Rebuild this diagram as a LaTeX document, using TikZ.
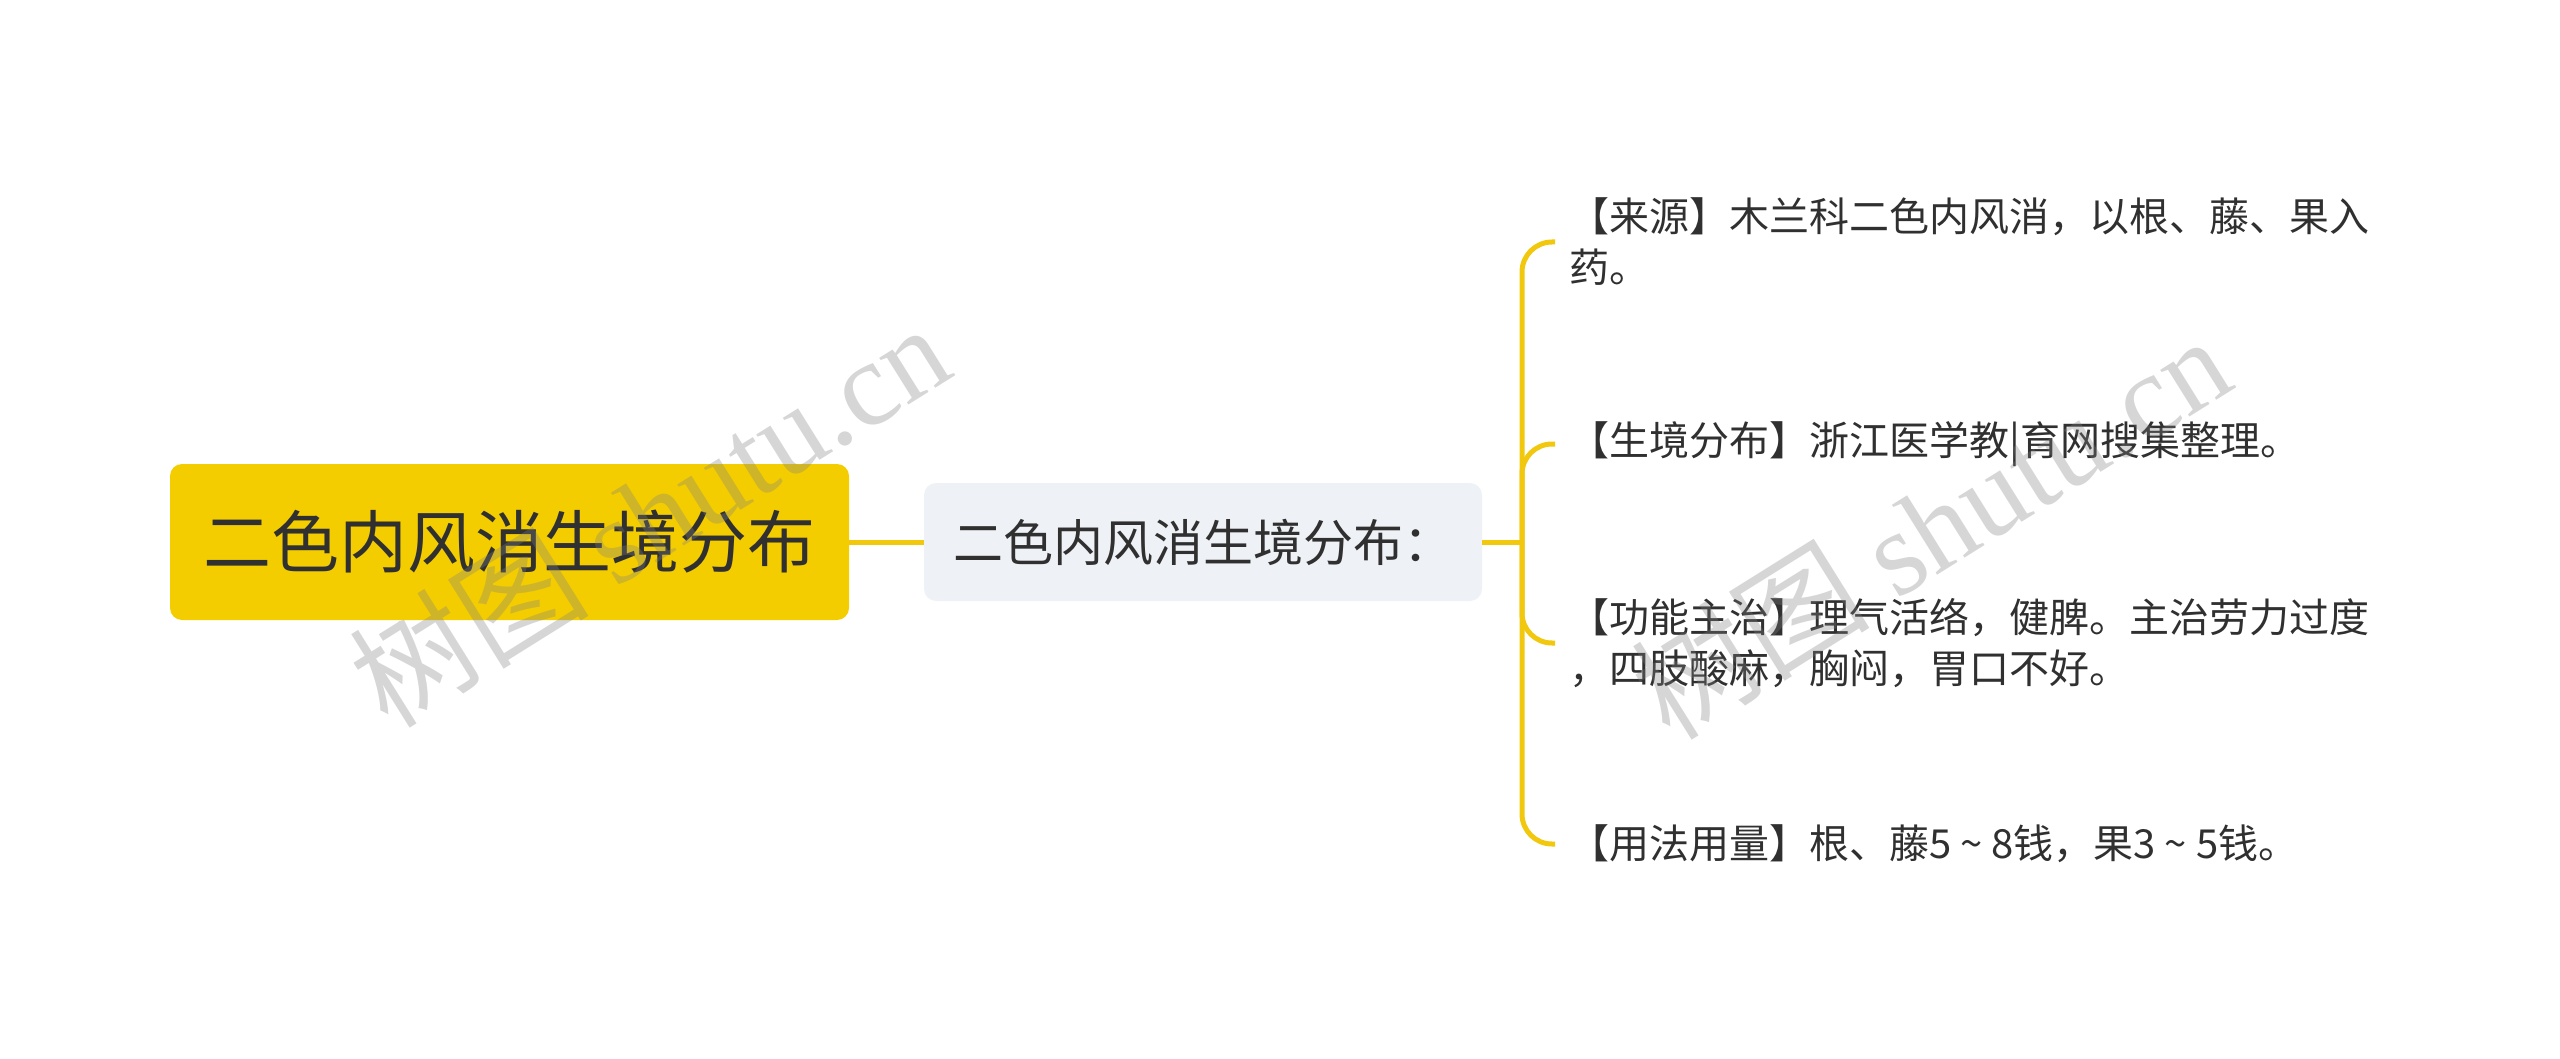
\documentclass[tikz,border=0pt]{standalone}
\usepackage{fontspec}
\setmainfont{Noto Sans CJK SC}
\newfontfamily\wmserif{Liberation Serif}
\definecolor{mapyellow}{HTML}{F4CD00}
\definecolor{mapline}{HTML}{F1C80E}
\definecolor{mapgrey}{HTML}{EEF1F5}
\definecolor{maptext}{HTML}{303030}
\begin{document}
\begin{tikzpicture}[x=1pt, y=-1pt,
    root node/.style={rectangle, rounded corners=12pt, fill=mapyellow, text=maptext, inner sep=0pt, minimum width=679pt, minimum height=156pt, font=\fontsize{68}{80}\selectfont},
    sub node/.style={rectangle, rounded corners=12pt, fill=mapgrey, text=maptext, inner sep=0pt, minimum width=558pt, minimum height=118pt, font=\fontsize{50}{58}\selectfont},
    leaf node/.style={anchor=west, align=left, text=maptext, inner xsep=14pt, inner ysep=0pt, font=\fontsize{40}{51}\selectfont},
    branch/.style={draw=mapline, line width=5pt},
    wmark/.style={text=black!50, opacity=0.32, rotate=32, font=\fontsize{120}{130}\selectfont}]
    \useasboundingbox (0,0) rectangle (2560,1059);

    % centre et sous-theme
    \node[root node] (root) at (509.5, 542) {二色内风消生境分布};
    \node[sub node] (sub) at (1203, 542) {二色内风消生境分布：};
    \coordinate (junc) at (1522, 542);
    \draw[branch] (root) -- (sub);
    \draw[branch] (sub) -- (junc);

    % feuilles
    \node[leaf node] (l1) at (1555, 242) {【来源】木兰科二色内风消，以根、藤、果入\\药。};
    \node[leaf node] (l2) at (1555, 444) {【生境分布】浙江医学教|育网搜集整理。};
    \node[leaf node] (l3) at (1555, 643) {【功能主治】理气活络，健脾。主治劳力过度\\，四肢酸麻，胸闷，胃口不好。};
    \node[leaf node] (l4) at (1555, 844) {【用法用量】根、藤5 \textasciitilde{} 8钱，果3 \textasciitilde{} 5钱。};

    \draw[branch, rounded corners=30pt] (junc) |- (l1.west);
    \draw[branch, rounded corners=30pt] (junc) |- (l2.west);
    \draw[branch, rounded corners=30pt] (junc) |- (l3.west);
    \draw[branch, rounded corners=30pt] (junc) |- (l4.west);

    % filigrane
    \node[wmark] (wm1) at (649, 514) {树图 {\wmserif shutu.cn}};
    \node[wmark] (wm2) at (1930, 526) {树图 {\wmserif shutu.cn}};
\end{tikzpicture}
\end{document}
